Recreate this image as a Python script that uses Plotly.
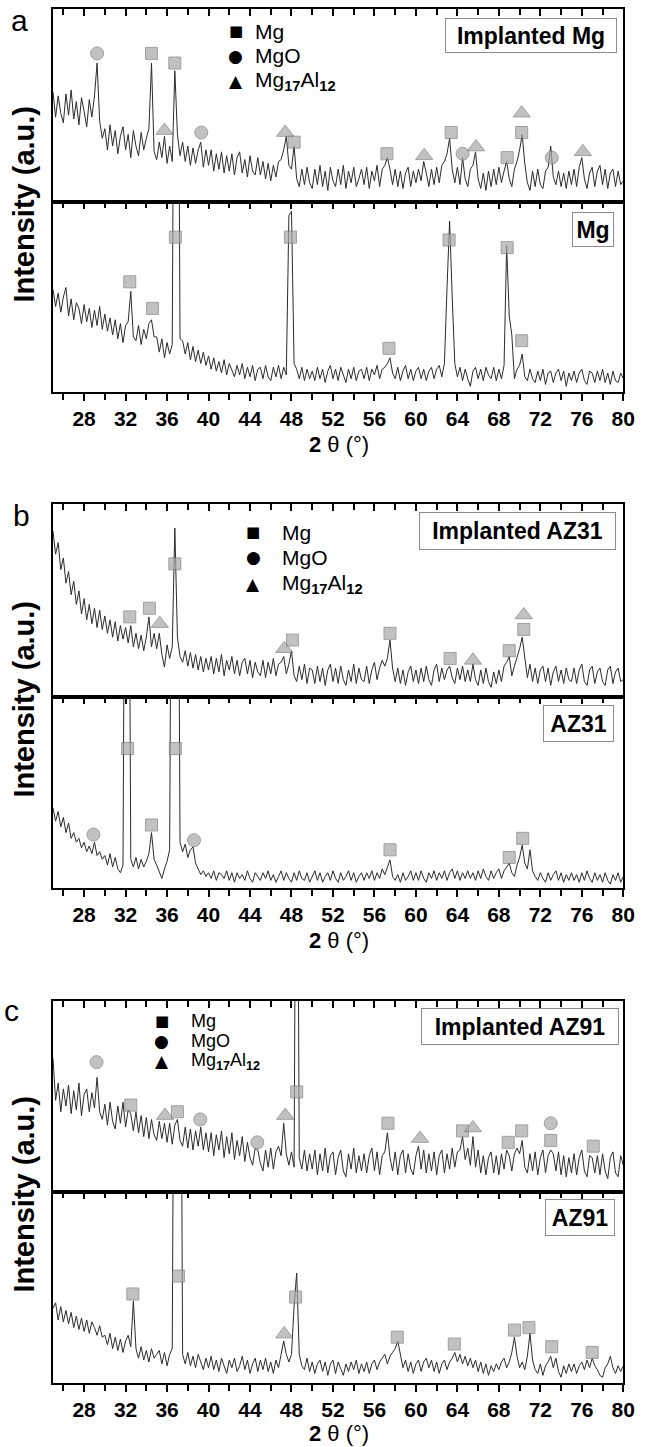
import plotly.graph_objects as go

W, H = 651, 1447
FONT = "Arial, 'Liberation Sans', Helvetica, sans-serif"

# ---------------- data ----------------
# 2-theta grid start / step (deg); intensities are in % of each sub-panel height
TWO_THETA_START = 25.0
TWO_THETA_STEP = 0.25

implanted_mg = [
    57, 44, 55, 46, 41, 56, 45, 58, 43, 52, 40, 54, 47, 39, 53, 44, 55, 72, 42, 33,
    38, 27, 40, 29, 37, 25, 34, 39, 27, 35, 23, 37, 29, 24, 36, 27, 33, 38, 72, 26,
    22, 31, 23, 34, 20, 29, 21, 68, 35, 24, 31, 21, 29, 19, 28, 20, 27, 31, 18, 27,
    19, 27, 16, 25, 17, 26, 15, 24, 16, 25, 14, 23, 26, 15, 22, 13, 24, 16, 14, 23,
    14, 21, 12, 20, 11, 19, 13, 21, 22, 27, 34, 19, 17, 29, 12, 8, 17, 9, 18, 10,
    7, 17, 9, 19, 8, 16, 6, 18, 11, 8, 17, 9, 19, 7, 16, 10, 18, 8, 12, 17,
    9, 18, 7, 16, 11, 19, 8, 17, 19, 23, 17, 9, 17, 8, 16, 7, 15, 18, 8, 16,
    10, 17, 11, 21, 15, 8, 17, 9, 18, 10, 19, 21, 25, 33, 17, 10, 18, 9, 23, 12,
    8, 17, 19, 26, 12, 7, 15, 6, 16, 8, 17, 9, 18, 10, 16, 21, 12, 8, 17, 21,
    27, 35, 20, 10, 6, 16, 8, 17, 9, 7, 16, 18, 29, 13, 9, 16, 8, 15, 7, 16,
    9, 17, 8, 18, 23, 12, 7, 15, 18, 8, 16, 19, 9, 17, 7, 15, 17, 8, 16, 9,
    11,
]
pure_mg = [
    54, 45, 52, 42, 50, 55, 40, 49, 38, 47, 44, 36, 46, 37, 44, 34, 43, 35, 45, 33,
    41, 32, 39, 30, 38, 28, 36, 26, 35, 37, 53, 29, 27, 35, 25, 33, 28, 36, 38, 29,
    29, 21, 28, 18, 26, 20, 25, 300, 300, 28, 27, 20, 26, 17, 24, 16, 22, 15, 21, 14,
    19, 12, 18, 11, 16, 10, 17, 9, 15, 11, 8, 14, 9, 15, 7, 13, 8, 14, 6, 12,
    13, 7, 14, 8, 6, 13, 8, 14, 7, 13, 9, 93, 95, 15, 12, 7, 13, 6, 12, 7,
    11, 6, 13, 7, 12, 5, 11, 14, 7, 12, 6, 13, 9, 5, 12, 7, 13, 6, 11, 12,
    7, 13, 6, 12, 9, 14, 7, 12, 13, 15, 18, 10, 7, 13, 6, 11, 14, 7, 12, 6,
    11, 13, 7, 12, 6, 11, 13, 7, 12, 14, 8, 15, 55, 90, 50, 15, 8, 13, 6, 12,
    7, 3, 11, 13, 7, 12, 6, 13, 9, 7, 13, 6, 12, 7, 14, 77, 40, 30, 7, 12,
    14, 20, 8, 6, 12, 7, 5, 11, 6, 12, 4, 10, 11, 5, 10, 12, 6, 11, 3, 10,
    6, 11, 5, 10, 12, 6, 4, 11, 10, 5, 11, 6, 12, 5, 10, 4, 11, 6, 5, 10,
    7,
]
implanted_az31 = [
    86, 74, 80, 66, 72, 59, 65, 53, 60, 48, 55, 43, 51, 40, 48, 38, 46, 36, 45, 35,
    42, 33, 40, 31, 39, 29, 37, 30, 36, 28, 37, 26, 33, 25, 32, 24, 31, 41.5, 26, 33,
    25, 33, 22, 15.5, 27, 20, 26, 87.5, 31, 21, 18, 24, 16, 23, 15, 22, 14, 21, 13, 20,
    14, 21, 12, 20, 13, 22, 11, 19, 14, 21, 12, 19, 11, 18, 20, 12, 19, 10, 18, 13,
    11, 19, 10, 18, 12, 20, 11, 17, 18, 21, 12, 17, 24, 11, 8, 16, 9, 17, 7, 15,
    14, 7, 16, 8, 15, 6, 14, 17, 8, 15, 7, 16, 9, 6, 14, 8, 17, 7, 15, 9,
    8, 16, 7, 14, 18, 9, 15, 19, 16, 20, 29.5, 15, 8, 15, 7, 14, 6, 13, 16, 8,
    14, 7, 15, 8, 16, 9, 6, 14, 17, 8, 15, 9, 14, 16, 10, 7, 15, 9, 16, 8,
    14, 8, 17, 9, 6, 14, 7, 15, 8, 5, 13, 7, 14, 8, 16, 18, 21, 11, 16, 20,
    25, 31, 19, 10, 17, 8, 15, 7, 14, 16, 8, 15, 6, 13, 16, 8, 14, 7, 15, 9,
    8, 15, 7, 14, 17, 8, 6, 14, 16, 7, 13, 15, 8, 6, 14, 16, 7, 13, 15, 8,
    9,
]
az31 = [
    42, 35, 40, 32, 37, 29, 34, 26, 29, 24, 26, 21, 24, 19, 22, 18, 24, 17, 19, 15,
    17, 12, 18, 11, 16, 10, 8, 12, 300, 300, 15, 11, 16, 10, 15, 11, 14, 18, 29, 15,
    12, 8, 5, 10, 14, 20, 300, 300, 300, 24, 19, 23, 16, 20, 21.5, 13, 10, 7, 9, 6,
    8, 5, 9, 4, 8, 7, 5, 9, 4, 8, 3, 8, 5, 7, 4, 9, 5, 3, 8, 6,
    4, 8, 5, 9, 4, 7, 3, 6, 9, 4, 8, 5, 3, 8, 4, 9, 5, 4, 8, 3,
    6, 9, 4, 8, 3, 6, 8, 4, 9, 5, 3, 8, 4, 6, 9, 4, 8, 3, 6, 8,
    4, 8, 5, 9, 4, 8, 5, 10, 7, 11, 14.7, 6, 4, 7, 3, 8, 4, 6, 9, 4,
    8, 4, 9, 5, 3, 8, 5, 9, 4, 8, 5, 9, 4, 8, 10, 5, 9, 4, 8, 5,
    9, 5, 8, 4, 9, 5, 10, 6, 4, 9, 5, 8, 10, 5, 9, 11, 13, 8, 6, 12,
    16, 22.5, 13, 10, 20, 9, 6, 4, 8, 5, 3, 8, 4, 7, 9, 4, 8, 3, 7, 4,
    8, 4, 7, 3, 8, 4, 9, 5, 3, 8, 4, 7, 3, 8, 4, 2, 7, 4, 8, 3,
    6,
]
implanted_az91 = [
    70, 48, 57, 42, 54, 45, 56, 41, 53, 43, 57, 40, 51, 54, 42, 52, 44, 60, 42, 38,
    46, 35, 47, 37, 33, 45, 36, 47, 34, 43, 41, 32, 42, 31, 40, 29, 39, 28, 38, 30,
    27, 37, 28, 36, 26, 36, 25, 35, 38, 27, 24, 34, 23, 33, 22, 32, 24, 34, 22, 31,
    21, 31, 19, 30, 22, 32, 18, 29, 20, 31, 17, 27, 19, 29, 16, 26, 18, 14, 23, 22,
    15, 11, 22, 13, 23, 12, 21, 24, 19, 36, 20, 14, 21, 13, 300, 18, 12, 22, 11, 20,
    12, 22, 9, 20, 11, 23, 10, 19, 21, 9, 18, 22, 11, 8, 20, 12, 23, 10, 19, 11,
    20, 10, 19, 23, 11, 21, 9, 19, 21, 31, 18, 11, 21, 9, 19, 22, 10, 20, 12, 9,
    19, 24, 12, 22, 10, 20, 11, 21, 9, 19, 22, 10, 20, 12, 23, 13, 21, 22, 29, 17,
    23, 14, 29, 13, 22, 10, 19, 9, 18, 21, 10, 19, 9, 20, 12, 22, 19, 11, 20, 23,
    20, 27, 13, 10, 20, 11, 21, 9, 18, 22, 10, 19, 22, 20, 11, 21, 9, 19, 8, 18,
    10, 20, 9, 18, 22, 11, 8, 19, 18, 10, 19, 9, 20, 11, 7, 18, 21, 10, 8, 19,
    14,
]
az91 = [
    39, 42, 33, 40, 32, 38, 31, 37, 29, 35, 28, 34, 27, 33, 26, 32, 29, 25, 30, 24,
    25, 20, 26, 18, 24, 17, 23, 16, 22, 25, 19, 43, 18, 13, 19, 12, 17, 11, 18, 13,
    15, 17, 10, 16, 9, 15, 18, 300, 300, 300, 15, 10, 16, 9, 14, 8, 15, 11, 7, 13,
    8, 14, 7, 12, 6, 13, 9, 5, 12, 8, 13, 6, 9, 14, 7, 12, 5, 10, 13, 6,
    12, 7, 13, 6, 11, 5, 12, 8, 15, 22, 15, 11, 15, 40, 57.6, 15, 9, 7, 13, 6,
    11, 5, 10, 12, 6, 11, 4, 10, 12, 5, 11, 7, 4, 10, 6, 11, 7, 12, 5, 10,
    6, 11, 5, 10, 12, 7, 11, 13, 15, 10, 14, 16, 18, 22, 14, 8, 12, 6, 11, 5,
    10, 12, 6, 11, 13, 8, 12, 6, 11, 5, 10, 12, 7, 11, 13, 16, 11, 15, 10, 14,
    9, 13, 8, 12, 6, 11, 5, 10, 4, 9, 6, 10, 7, 11, 13, 8, 11, 16, 24, 14,
    8, 11, 7, 14, 26, 12, 7, 5, 10, 4, 9, 11, 14, 8, 13, 6, 3, 9, 5, 10,
    6, 10, 5, 9, 11, 7, 12, 8, 13, 9, 7, 4, 3, 8, 10, 14, 8, 5, 9, 6,
    9,
]

# phase markers (2theta, height %, phase) per sub-panel
PHASES = ["Mg", "MgO", "Mg17Al12"]
mk_implanted_mg_x = [29.25, 34.5, 35.75, 36.75, 39.3, 47.4, 48.25, 57.2, 60.8, 63.4, 64.5, 65.8, 68.8, 70.2, 70.2, 73.1, 76.1]
mk_implanted_mg_y = [77, 77, 37, 72, 36, 36, 31, 25, 24, 36, 25, 28.5, 23, 36, 46, 23, 26]
mk_implanted_mg_p = ["MgO", "Mg", "Mg17Al12", "Mg", "MgO", "Mg17Al12", "Mg", "Mg", "Mg17Al12", "Mg", "MgO", "Mg17Al12", "Mg", "Mg", "Mg17Al12", "MgO", "Mg17Al12"]

mk_pure_mg_x = [32.4, 34.6, 36.8, 47.9, 57.4, 63.2, 68.8, 70.2]
mk_pure_mg_y = [58, 44, 81.5, 81.5, 23, 80, 76, 27]
mk_pure_mg_p = ["Mg"] * 8

mk_implanted_az31_x = [32.4, 34.3, 35.3, 36.75, 47.3, 48.1, 57.5, 63.3, 65.5, 69.0, 70.4, 70.4]
mk_implanted_az31_y = [41.5, 46, 38, 69, 25, 29.5, 33, 20, 19, 24, 35, 42.5]
mk_implanted_az31_p = ["Mg", "Mg", "Mg17Al12", "Mg", "Mg17Al12", "Mg", "Mg", "Mg", "Mg17Al12", "Mg", "Mg", "Mg17Al12"]

mk_az31_x = [28.9, 32.2, 34.5, 36.8, 38.6, 57.5, 69.0, 70.3]
mk_az31_y = [28, 73, 33, 73, 25, 20, 16, 26]
mk_az31_p = ["MgO", "Mg", "Mg", "Mg", "MgO", "Mg", "Mg", "Mg"]

mk_implanted_az91_x = [29.2, 32.5, 35.8, 37.0, 39.2, 44.7, 47.4, 48.5, 57.3, 60.4, 64.5, 65.5, 68.9, 70.2, 73.0, 73.0, 77.1]
mk_implanted_az91_y = [68, 45.5, 40, 42, 38, 26, 40, 52.4, 36, 28, 32, 33.5, 26, 32, 36, 27, 24]
mk_implanted_az91_p = ["MgO", "Mg", "Mg17Al12", "Mg", "MgO", "MgO", "Mg17Al12", "Mg", "Mg", "Mg17Al12", "Mg", "Mg17Al12", "Mg", "Mg", "MgO", "Mg", "Mg"]

mk_az91_x = [32.7, 37.1, 47.3, 48.4, 58.2, 63.7, 69.5, 70.9, 73.1, 77.0]
mk_az91_y = [46.6, 56, 25.6, 45, 24, 20.4, 27.7, 29, 19, 16]
mk_az91_p = ["Mg", "Mg", "Mg17Al12", "Mg", "Mg", "Mg", "Mg", "Mg", "Mg", "Mg"]

sample_labels = ["Implanted Mg", "Mg", "Implanted AZ31", "AZ31", "Implanted AZ91", "AZ91"]
x_ticks = [28, 32, 36, 40, 44, 48, 52, 56, 60, 64, 68, 72, 76, 80]
panel_letters = ["a", "b", "c"]
legend_labels = ["Mg", "MgO", "Mg<sub><b>17</b></sub>Al<sub><b>12</b></sub>"]

series = [implanted_mg, pure_mg, implanted_az31, az31, implanted_az91, az91]
for sr in series:
    assert len(sr) == 221, len(sr)
markers = [
    (mk_implanted_mg_x, mk_implanted_mg_y, mk_implanted_mg_p),
    (mk_pure_mg_x, mk_pure_mg_y, mk_pure_mg_p),
    (mk_implanted_az31_x, mk_implanted_az31_y, mk_implanted_az31_p),
    (mk_az31_x, mk_az31_y, mk_az31_p),
    (mk_implanted_az91_x, mk_implanted_az91_y, mk_implanted_az91_p),
    (mk_az91_x, mk_az91_y, mk_az91_p),
]

# ---------------- layout geometry (pixels) ----------------
PLOT_L, PLOT_R = 54, 635
PANELS = [(9, 202, 392), (504, 697, 888), (1001, 1192, 1383)]
TITLE_OFFSET = [52, 52, 50]
LABEL_BOXES = [  # (left, top, right, bottom)
    (453, 18, 625, 53), (583, 212, 625, 247),
    (427, 512, 624, 550), (553, 705, 624, 742),
    (429, 1008, 627, 1045), (555, 1199, 625, 1236),
]
LEGEND_POS = [  # (symbol x, text x, row ys, font size)
    (240, 258, (31, 56, 81), 21),
    (258, 285, (532, 557, 584), 21),
    (165, 193, (1021, 1041, 1061), 18),
]
LETTER_POS = [(20, 20), (22, 515), (12, 1010)]


def px(x):
    return x / W


def py(y):
    return 1 - y / H


SYMBOL = {"Mg": "square", "MgO": "circle", "Mg17Al12": "triangle-up"}
SIZE = {"Mg": 12, "MgO": 13, "Mg17Al12": 15}
LEG_GLYPH = {"Mg": ("■", 15), "MgO": ("●", 17), "Mg17Al12": ("▲", 17)}

fig = go.Figure()
layout = dict(
    width=W, height=H, margin=dict(l=0, r=0, t=0, b=0),
    paper_bgcolor="white", plot_bgcolor="white", showlegend=False,
    font=dict(family=FONT, color="black"),
)

n = len(implanted_mg)
grid = [TWO_THETA_START + TWO_THETA_STEP * i for i in range(n)]

annotations = []
for s in range(6):
    k = s + 1
    p, is_bottom = divmod(s, 2)
    top, mid, bot = PANELS[p]
    ytop, ybot = (top, mid) if not is_bottom else (mid, bot)
    xname = "xaxis" if k == 1 else f"xaxis{k}"
    yname = "yaxis" if k == 1 else f"yaxis{k}"
    xref = "x" if k == 1 else f"x{k}"
    yref = "y" if k == 1 else f"y{k}"

    xa = dict(
        domain=[px(PLOT_L), px(PLOT_R)], range=[25, 80], anchor=yref,
        showline=True, linecolor="black", linewidth=2, mirror=True,
        showgrid=False, zeroline=False, tickvals=x_ticks,
        ticklen=7, tickwidth=2, tickcolor="black",
        minor=dict(dtick=2, tick0=26, ticklen=6, tickwidth=2, tickcolor="black"),
    )
    if is_bottom:
        xa.update(side="bottom", ticks="outside", showticklabels=True,
                  tickfont=dict(family=FONT, size=21, color="black", weight="bold"))
        xa["minor"]["ticks"] = "outside"
    else:
        xa.update(side="top", ticks="inside", showticklabels=False)
        xa["minor"]["ticks"] = "inside"
    layout[xname] = xa
    layout[yname] = dict(
        domain=[py(ybot), py(ytop)], range=[0, 100], anchor=xref,
        showline=True, linecolor="black", linewidth=2, mirror=True,
        showgrid=False, zeroline=False, showticklabels=False, ticks="",
    )

    fig.add_trace(go.Scatter(
        x=grid, y=series[s], mode="lines", xaxis=xref, yaxis=yref,
        line=dict(color="#2b2b2b", width=1), hoverinfo="skip",
    ))
    mx, my, mp = markers[s]
    fig.add_trace(go.Scatter(
        x=mx, y=my, mode="markers", xaxis=xref, yaxis=yref,
        marker=dict(symbol=[SYMBOL[q] for q in mp], size=[SIZE[q] for q in mp],
                    color="#a8a8a8", line=dict(color="#787878", width=1)),
        hoverinfo="skip",
    ))

    # sample label box
    l, t, r, b = LABEL_BOXES[s]
    annotations.append(dict(
        text=f"<b>{sample_labels[s]}</b>", xref="paper", yref="paper",
        x=px(l), y=py(t), xanchor="left", yanchor="top", showarrow=False,
        width=r - l - 2, height=b - t - 2, borderpad=0, align="center", valign="middle",
        bordercolor="#8c8c8c", borderwidth=1, bgcolor="white",
        font=dict(family=FONT, size=23, color="black"),
    ))

# overlay axes giving inward ticks on top edge of each bottom sub-panel
for p in range(3):
    k = 7 + p
    base = 2 * p + 2
    layout[f"xaxis{k}"] = dict(
        domain=[px(PLOT_L), px(PLOT_R)], range=[25, 80], overlaying=f"x{base}",
        anchor=f"y{base}", side="top", ticks="inside", showticklabels=False,
        showline=False, showgrid=False, zeroline=False, tickvals=x_ticks,
        ticklen=7, tickwidth=2, tickcolor="black",
        minor=dict(dtick=2, tick0=26, ticks="inside", ticklen=6, tickwidth=2, tickcolor="black"),
    )
    fig.add_trace(go.Scatter(x=[None], y=[None], xaxis=f"x{k}", yaxis=f"y{base}",
                             mode="lines", hoverinfo="skip"))

for p in range(3):
    top, mid, bot = PANELS[p]
    # panel letter
    lx, ly = LETTER_POS[p]
    annotations.append(dict(text=panel_letters[p], xref="paper", yref="paper",
                            x=px(lx), y=py(ly), xanchor="center", yanchor="middle",
                            showarrow=False, font=dict(family=FONT, size=30)))
    # y title
    annotations.append(dict(text="<b>Intensity (a.u.)</b>", xref="paper", yref="paper",
                            x=px(24), y=py(mid + 2), xanchor="center", yanchor="middle",
                            textangle=-90, showarrow=False, font=dict(family=FONT, size=29)))
    # x title
    annotations.append(dict(text="<b>2</b> θ (°)", xref="paper", yref="paper",
                            x=px(345), y=py(bot + TITLE_OFFSET[p]), xanchor="center", yanchor="middle",
                            showarrow=False, font=dict(family=FONT, size=22)))
    # legend
    sx, tx, rows, fs = LEGEND_POS[p]
    for name, label, ry in zip(PHASES, legend_labels, rows):
        glyph, gs = LEG_GLYPH[name]
        annotations.append(dict(text=glyph, xref="paper", yref="paper", x=px(sx), y=py(ry),
                                xanchor="center", yanchor="middle", showarrow=False,
                                font=dict(family="DejaVu Sans", size=gs, color="black")))
        annotations.append(dict(text=label, xref="paper", yref="paper", x=px(tx), y=py(ry),
                                xanchor="left", yanchor="middle", showarrow=False,
                                font=dict(family=FONT, size=fs, color="black")))

layout["annotations"] = annotations
fig.update_layout(**layout)
fig.write_html("out.html")
